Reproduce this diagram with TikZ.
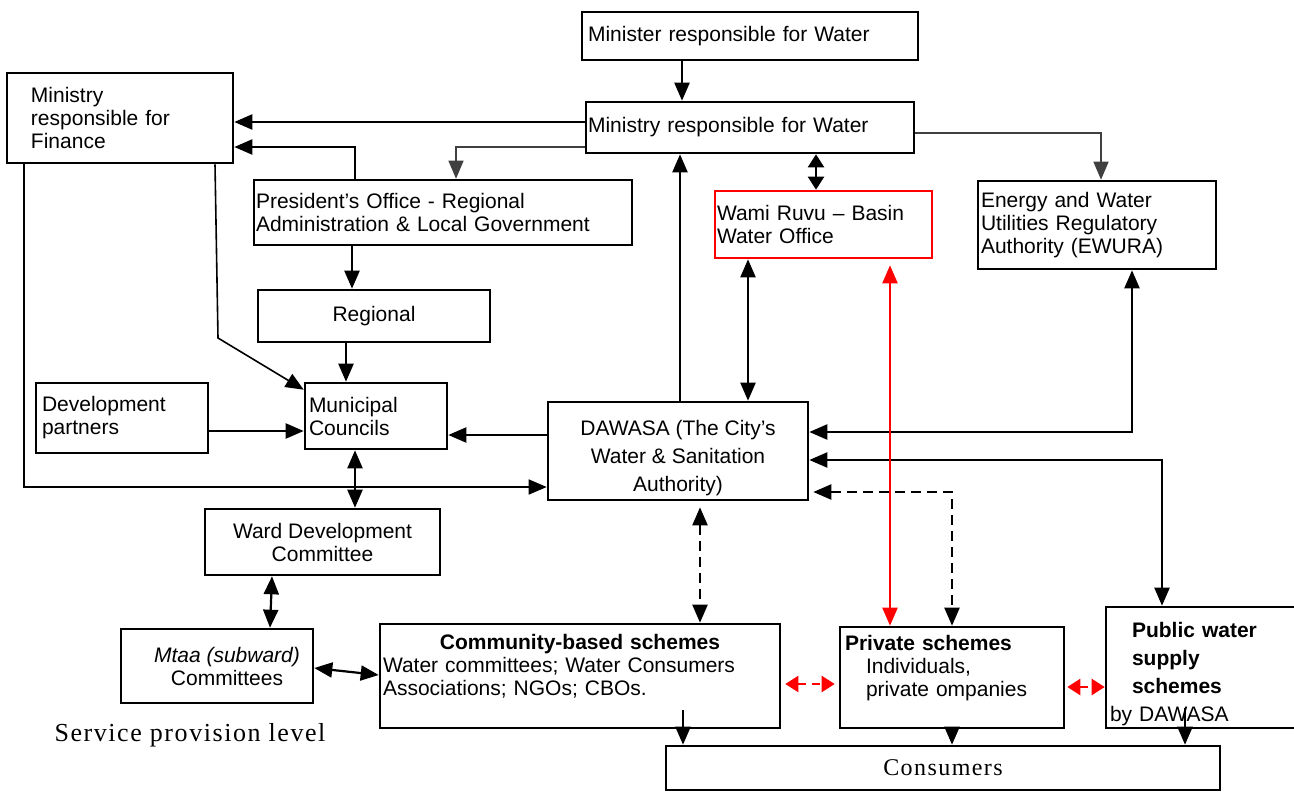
\documentclass[tikz,border=0pt]{standalone}
\usepackage{fontspec}
\setmainfont{Liberation Sans}
\newfontfamily\serifA{Liberation Serif}[LetterSpace=6]
\usetikzlibrary{arrows.meta,calc}
\begin{document}
\begin{tikzpicture}[x=0.5pt,y=-0.5pt,
  box/.style={draw,line width=1.3pt,inner ysep=0pt,font=\fontsize{10.5}{11.5}\selectfont},
  tip/.tip={Triangle[length=9pt,width=7.5pt]},
  smalltip/.tip={Triangle[length=6.5pt,width=8pt]},
  conn/.style={line width=1.1pt,-tip},
  both/.style={line width=1.1pt,tip-tip},
  shortboth/.style={line width=1.1pt,smalltip-smalltip},
  thinlink/.style={line width=0.7pt,draw=black!75,-tip},
  dashlink/.style={both,dash pattern=on 5pt off 3pt},
  redlink/.style={both,color=red},
  reddash/.style={line width=1.1pt,smalltip-smalltip,color=red,dash pattern=on 4pt off 3pt}]
\useasboundingbox (0,0) rectangle (1294,792);
\fill[white] (0,0) rectangle (1294,792);

% boxes
\node[box,minimum width=168pt,minimum height=24pt,text width=162pt,inner xsep=3pt,align=left] (minister) at (750,36) {Minister responsible for Water};
\node[box,minimum width=164pt,minimum height=25.5pt,text width=162pt,inner xsep=1pt,align=left] (ministryW) at (750,127.5) {Ministry responsible for Water};
\node[box,minimum width=113pt,minimum height=45pt,text width=89pt,inner xsep=12pt,align=left] (finance) at (120,118) {Ministry\\responsible for\\Finance};
\node[box,minimum width=189pt,minimum height=32.5pt,text width=187pt,inner xsep=1pt,align=left] (president) at (443,212.5) {President’s Office - Regional\\Administration \& Local Government};
\node[box,minimum width=116pt,minimum height=26pt,align=center] (regional) at (374,316) {Regional};
\node[box,minimum width=86pt,minimum height=35pt,text width=80pt,inner xsep=3pt,align=left] (devpart) at (122,418) {Development\\partners};
\node[box,minimum width=71pt,minimum height=33pt,text width=67pt,inner xsep=2pt,align=left] (municipal) at (376,416) {Municipal\\Councils};
\node[box,minimum width=130pt,minimum height=49pt,align=center,font=\fontsize{10.5}{14}\selectfont] (dawasa) at (678,451) {\rule{0pt}{15pt}DAWASA (The City’s\\Water \& Sanitation\\Authority)};
\node[box,draw=red,minimum width=108.5pt,minimum height=33.5pt,text width=106.5pt,inner xsep=1pt,align=left] (wami) at (823.5,224.5) {Wami Ruvu – Basin\\Water Office};
\node[box,minimum width=119pt,minimum height=44pt,text width=116pt,inner xsep=1.5pt,align=left] (ewura) at (1097,225) {Energy and Water\\Utilities Regulatory\\Authority (EWURA)};
\node[box,minimum width=117.5pt,minimum height=33pt,align=center] (ward) at (322.5,542) {Ward Development\\Committee};
\node[box,minimum width=96pt,minimum height=37pt,align=center] (mtaa) at (217,666) {\hspace*{10pt}\textit{Mtaa (subward)}\\\hspace*{10pt}Committees};
\node[box,minimum width=200pt,minimum height=52pt,text width=197pt,inner xsep=1.5pt,align=left] (community) at (580,676) {\makebox[197pt]{\bfseries Community-based schemes}\\Water committees; Water Consumers\\Associations; NGOs; CBOs.\\\mbox{}};
\node[box,minimum width=112pt,minimum height=50.5pt,text width=107pt,inner xsep=2.5pt,align=left] (private) at (952,677.5) {\textbf{Private schemes}\\\hspace*{10.5pt}Individuals,\\\hspace*{10.5pt}private ompanies\\\mbox{}};
\node[box,minimum width=97pt,minimum height=60.5pt,text width=71pt,inner xsep=13pt,align=left,font=\fontsize{10.5}{14}\selectfont] (public) at (1203,667.5) {\mbox{}\\\textbf{Public water}\\\textbf{supply}\\\textbf{schemes}\\\hspace*{-11pt}by DAWASA};
\node[box,minimum width=277pt,minimum height=22pt,font=\serifA\fontsize{12}{14}\selectfont] (consumers) at (943,768) {Consumers};
\node[font=\serifA\fontsize{13}{15}\selectfont] (service) at (190,735) {Service provision level};

\coordinate (cbstart) at (683,710);
\coordinate (pubstart) at (1185,708);

% connectors
\draw[conn] (682,0 |- minister.south) -- (682,0 |- ministryW.north);
\draw[conn] (ministryW.west |- 0,122) -- (finance.east |- 0,122);
\draw[thinlink] (ministryW.west |- 0,147) -| (456,0 |- president.north);
\draw[conn] (355,0 |- president.north) |- (finance.east |- 0,147);
\draw[conn] (352,0 |- president.south) -- (352,0 |- regional.north);
\draw[conn] (346,0 |- regional.south) -- (346,0 |- municipal.north);
\draw[conn,line width=0.8pt] (215,0 |- finance.south) -- (218,338) -- ($(municipal.north west)+(0,8)$);
\draw[conn,line width=0.8pt] (24,0 |- finance.south) |- (dawasa.west |- 0,487);
\draw[conn] (devpart.east |- 0,431) -- (municipal.west |- 0,431);
\draw[conn] (dawasa.west |- 0,435) -- (municipal.east |- 0,435);
\draw[both] (355,0 |- municipal.south) -- (355,0 |- ward.north);
\draw[both] (272,0 |- ward.south) -- (270,0 |- mtaa.north);
\draw[both] (mtaa.east |- 0,668) -- (community.west |- 0,675);
\draw[conn] (680,0 |- dawasa.north) -- (680,0 |- ministryW.south);
\draw[shortboth] (816,0 |- ministryW.south) -- (816,0 |- wami.north);
\draw[both] (748,0 |- wami.south) -- (748,0 |- dawasa.north);
\draw[thinlink] (ministryW.east |- 0,133) -| (1101,0 |- ewura.north);
\draw[both] (1132,0 |- ewura.south) |- (dawasa.east |- 0,432);
\draw[both] (dawasa.east |- 0,460) -| (1162,0 |- public.north);
\draw[dashlink,shorten <=2pt] (dawasa.east |- 0,492) -| (952,0 |- private.north);
\draw[dashlink,shorten <=3pt] (700,0 |- dawasa.south) -- (700,0 |- community.north);
\draw[redlink,shorten <=3pt] (890,0 |- wami.south) -- (890,0 |- private.north);
\draw[reddash,shorten <=2pt,shorten >=2pt] (community.east |- 0,684) -- (private.west |- 0,684);
\draw[reddash,shorten <=1pt,shorten >=0pt] (private.east |- 0,687) -- (public.west |- 0,687);
\draw[conn] (cbstart) -- (683,0 |- consumers.north);
\draw[conn] (952,0 |- private.south) -- (952,0 |- consumers.north);
\draw[conn] (pubstart) -- (1185,0 |- consumers.north);
\end{tikzpicture}
\end{document}
